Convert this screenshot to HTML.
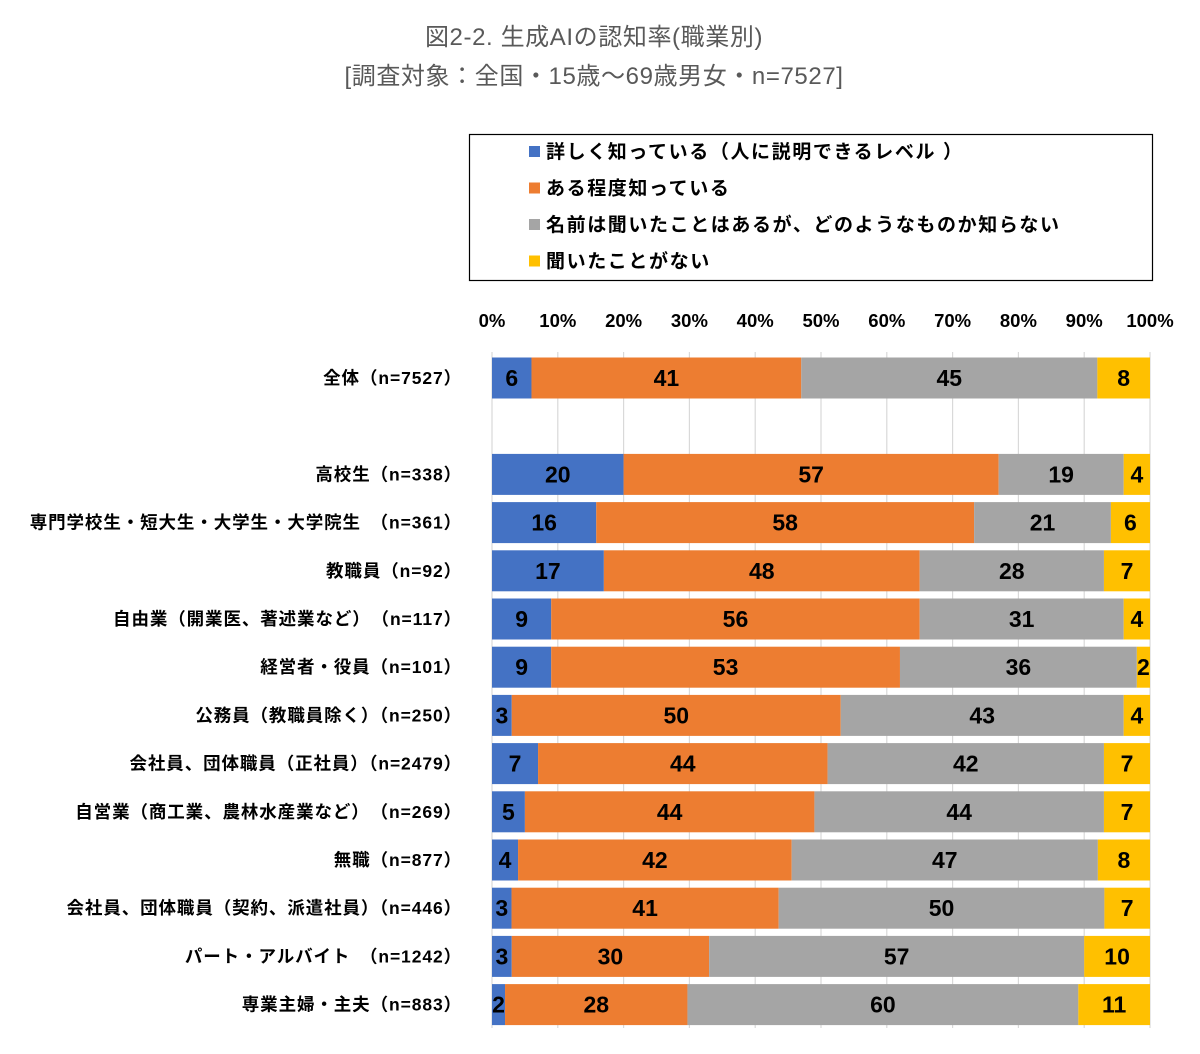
<!DOCTYPE html>
<html><head><meta charset="utf-8">
<style>
body{margin:0;background:#fff;width:1200px;height:1049px;overflow:hidden;font-family:"Liberation Sans","Noto Sans CJK JP",sans-serif;}
</style></head>
<body>
<svg id="chart" width="1200" height="1049" xmlns="http://www.w3.org/2000/svg" font-family="Liberation Sans, Noto Sans CJK JP, sans-serif">
<text x="594" y="45" text-anchor="middle" font-size="24" letter-spacing="0.6" fill="#595959">図2-2. 生成AIの認知率(職業別)</text>
<text x="594" y="84" text-anchor="middle" font-size="24" letter-spacing="0.6" fill="#595959">[調査対象：全国・15歳～69歳男女・n=7527]</text>
<g>
<rect x="469.5" y="134.5" width="683" height="146" fill="#fff" stroke="#000" stroke-width="1.2"/>
</g>
<g id="grid"></g>
<g id="ticks"></g>
<g id="bars"></g>
<g id="labels"></g>
</svg>
<script>
const categories=["全体（n=7527）",null,"高校生（n=338）","専門学校生・短大生・大学生・大学院生　（n=361）","教職員（n=92）","自由業（開業医、著述業など）　（n=117）","経営者・役員（n=101）","公務員（教職員除く）（n=250）","会社員、団体職員（正社員）（n=2479）","自営業（商工業、農林水産業など）　（n=269）","無職（n=877）","会社員、団体職員（契約、派遣社員）（n=446）","パート・アルバイト　（n=1242）","専業主婦・主夫（n=883）"];
const detailed=[6,null,20,16,17,9,9,3,7,5,4,3,3,2];
const somewhat=[41,null,57,58,48,56,53,50,44,44,42,41,30,28];
const nameOnly=[45,null,19,21,28,31,36,43,42,44,47,50,57,60];
const never=[8,null,4,6,7,4,2,4,7,7,8,7,10,11];
const seriesNames=["詳しく知っている（人に説明できるレベル ）","ある程度知っている","名前は聞いたことはあるが、どのようなものか知らない","聞いたことがない"];
const tickLabels=["0%","10%","20%","30%","40%","50%","60%","70%","80%","90%","100%"];
const colors=["#4472C4","#ED7D31","#A5A5A5","#FFC000"];
const NS="http://www.w3.org/2000/svg";
const x0=492,x1=1150,y0=378,pitch=48.2,bh=41;
const xs=v=>x0+(x1-x0)*v/100;
const ys=i=>y0+i*pitch;
function mk(tag,attrs,parent,txt){const e=document.createElementNS(NS,tag);for(const k in attrs)e.setAttribute(k,attrs[k]);if(txt!==undefined)e.textContent=txt;document.getElementById(parent).appendChild(e);return e;}
seriesNames.forEach((n,i)=>{
  const y=152+i*36.5;
  const r=mk('rect',{x:529,y:y-6,width:11,height:11,fill:colors[i]},'grid');
  
  
  const t=mk('text',{x:546,y:y+6,'font-size':19,'letter-spacing':'1.6','font-weight':'bold',fill:'#000'},'grid',n);
  
  
});
tickLabels.forEach((l,i)=>{
  const v=i*10;
  const g=mk('line',{x1:xs(v),x2:xs(v),y1:352,y2:1028,stroke:'#D9D9D9','stroke-width':1.2},'grid');
  
  
  const t=mk('text',{x:xs(v),y:327,'text-anchor':'middle','font-size':18.5,'font-weight':'bold',fill:'#000'},'ticks',l);
  
  
});
const series=[detailed,somewhat,nameOnly,never];
categories.forEach((c,i)=>{
  if(c===null)return;
  const tot=series.reduce((s,a)=>s+a[i],0);
  let cum=0;
  const cy=ys(i);
  series.forEach((arr,k)=>{
    const v=arr[i]*100/tot;
    const xa=xs(cum),xb=xs(cum+v);
    const r=mk('rect',{x:xa,y:cy-bh/2,width:Math.max(0,xb-xa),height:bh,fill:colors[k]},'bars');
    
    
    const t=mk('text',{x:(xa+xb)/2,y:cy+8,'text-anchor':'middle','font-size':23,'font-weight':'bold',fill:'#000'},'bars',String(arr[i]));
    
    
    cum+=v;
  });
  const l=mk('text',{x:462,y:cy+6,'text-anchor':'end','font-size':17.5,'letter-spacing':'0.9','font-weight':'bold',fill:'#000'},'labels',c);
  
  
});
</script>
</body></html>
